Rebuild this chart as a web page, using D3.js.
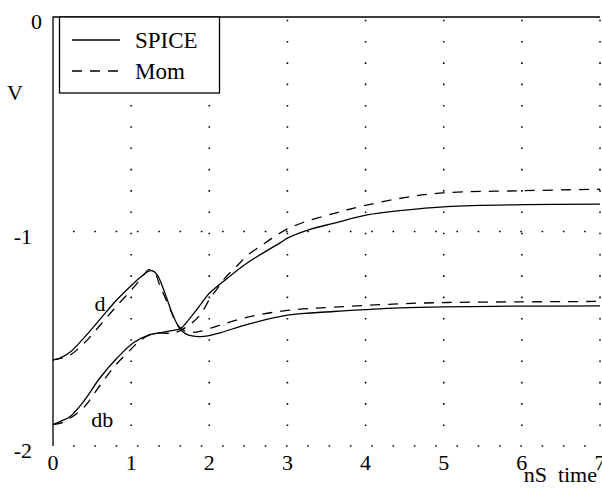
<!DOCTYPE html>
<html>
  <head>
    <meta charset="utf-8" />
    <script src="https://cdn.jsdelivr.net/npm/d3@7"></script>
    <style>
      body { margin: 0; background: #fff; }
    </style>
  </head>
  <body>
    <svg id="chart"></svg>
    <script>
      // waveform readings, [time nS, volts]
      const dSpice = [
        [0, -1.598], [0.09, -1.59], [0.22, -1.562], [0.39, -1.498], [0.6, -1.41], [0.82, -1.317],
        [1.03, -1.242], [1.11, -1.216], [1.2, -1.19], [1.27, -1.183], [1.33, -1.2], [1.43, -1.285],
        [1.54, -1.395], [1.63, -1.456], [1.7, -1.477], [1.78, -1.487], [1.88, -1.49], [2.0, -1.485],
        [2.15, -1.471], [2.5, -1.432], [3.0, -1.39], [3.59, -1.373], [4.0, -1.364], [4.44, -1.356],
        [5.0, -1.351], [6.0, -1.348], [7.0, -1.347]
      ]
      const dMom = [
        [0, -1.598], [0.2, -1.58], [0.4, -1.52], [0.6, -1.438], [0.82, -1.345], [1.03, -1.262],
        [1.15, -1.208], [1.23, -1.178], [1.3, -1.192], [1.37, -1.254], [1.45, -1.32], [1.52, -1.38],
        [1.58, -1.43], [1.66, -1.458], [1.75, -1.47], [1.88, -1.466], [2.14, -1.436], [2.52, -1.397],
        [3.0, -1.368], [3.59, -1.353], [4.44, -1.337], [5.04, -1.331], [6.02, -1.328], [7.0, -1.326]
      ]
      const dbSpice = [
        [0, -1.9], [0.09, -1.886], [0.22, -1.862], [0.39, -1.793], [0.6, -1.683], [0.82, -1.59],
        [1.03, -1.519], [1.24, -1.481], [1.37, -1.472], [1.5, -1.463], [1.63, -1.453], [1.75, -1.405],
        [1.9, -1.335], [2.0, -1.288], [2.18, -1.233], [2.48, -1.148], [2.91, -1.052], [3.0, -1.031],
        [3.29, -0.99], [3.59, -0.962], [4.02, -0.923], [4.44, -0.903], [5.04, -0.884], [6.02, -0.875],
        [7.0, -0.872]
      ]
      const dbMom = [
        [0, -1.9], [0.1, -1.893], [0.2, -1.875], [0.4, -1.818], [0.6, -1.718], [0.8, -1.623],
        [1.0, -1.548], [1.1, -1.513], [1.2, -1.488], [1.3, -1.474], [1.5, -1.474], [1.6, -1.467],
        [1.7, -1.447], [1.8, -1.42], [1.9, -1.38], [2.0, -1.318], [2.1, -1.267], [2.2, -1.217],
        [2.35, -1.162], [2.5, -1.107], [2.65, -1.07], [2.8, -1.032], [3.0, -0.988], [3.2, -0.958],
        [3.6, -0.915], [4.0, -0.878], [4.5, -0.842], [5.0, -0.82], [6.0, -0.81], [7.0, -0.803]
      ]

      const xTicks = [0, 1, 2, 3, 4, 5, 6, 7]
      const yTicks = [0, -1, -2]
      const legendItems = ["SPICE", "Mom"]
      const curveLabels = [{text: "d", t: 0.6, v: -1.37}, {text: "db", t: 0.63, v: -1.91}]

      const width = 602
      const height = 491
      const fontSize = 22
      const serif = "'Liberation Serif'"

      const x = d3.scaleLinear().domain([0, 7]).range([53, 600])
      const y = d3.scaleLinear().domain([-2, 0]).range([446, 17])

      const svg = d3.select("#chart")
        .attr("width", width)
        .attr("height", height)
        .attr("viewBox", [0, 0, width, height])

      // dotted grid
      const grid = svg.append("g")
        .attr("stroke", "#000")
        .attr("stroke-width", 1.6)
        .attr("stroke-dasharray", "1.6,19.7")
        .attr("fill", "none")

      grid.selectAll("line.v")
        .data(xTicks.filter(d => d > 0))
        .join("line")
          .attr("class", "v")
          .attr("x1", d => x(d))
          .attr("x2", d => x(d))
          .attr("y1", y(-2) - 20)
          .attr("y2", y(0))

      grid.selectAll("line.h")
        .data(yTicks.filter(d => d < 0))
        .join("line")
          .attr("class", "h")
          .attr("x1", x(0) + 20)
          .attr("x2", x(7) + 2)
          .attr("y1", d => y(d))
          .attr("y2", d => y(d))

      // frame: left axis and top line
      svg.append("path")
        .attr("d", `M${x(0)},${y(-2)}V${y(0)}H${x(7)}`)
        .attr("fill", "none")
        .attr("stroke", "#000")
        .attr("stroke-width", 1.3)

      const label = (sel, size) => sel
        .style("font-family", serif)
        .style("font-size", `${size}px`)
        .attr("fill", "#000")

      // tick labels
      svg.append("g")
        .selectAll("text")
        .data(yTicks)
        .join("text")
          .attr("x", d => d === 0 ? 42 : 32)
          .attr("y", d => y(d) + 12)
          .attr("text-anchor", "end")
          .call(label, fontSize)
          .text(d => d)

      svg.append("g")
        .selectAll("text")
        .data(xTicks)
        .join("text")
          .attr("x", d => x(d))
          .attr("y", 470)
          .attr("text-anchor", "middle")
          .call(label, fontSize)
          .text(d => d)

      svg.append("text")
        .attr("x", 15)
        .attr("y", 100)
        .attr("text-anchor", "middle")
        .call(label, fontSize)
        .text("V")

      svg.append("text")
        .attr("x", 597)
        .attr("y", 482)
        .attr("text-anchor", "end")
        .call(label, fontSize)
        .style("white-space", "pre")
        .text("nS  time")

      // curves
      const line = d3.line()
        .x(d => x(d[0]))
        .y(d => y(d[1]))
        .curve(d3.curveCatmullRom.alpha(0.5))

      const series = [
        {data: dSpice, dash: null},
        {data: dbSpice, dash: null},
        {data: dMom, dash: "10,8"},
        {data: dbMom, dash: "10,8"}
      ]

      svg.append("g")
        .selectAll("path")
        .data(series)
        .join("path")
          .attr("d", d => line(d.data))
          .attr("fill", "none")
          .attr("stroke", "#000")
          .attr("stroke-width", 1.3)
          .attr("stroke-dasharray", d => d.dash)

      svg.append("g")
        .selectAll("text")
        .data(curveLabels)
        .join("text")
          .attr("x", d => x(d.t))
          .attr("y", d => y(d.v))
          .attr("text-anchor", "middle")
          .call(label, fontSize)
          .text(d => d.text)

      // legend
      const legend = svg.append("g")
      legend.append("rect")
        .attr("x", 59.5)
        .attr("y", 17)
        .attr("width", 160)
        .attr("height", 76)
        .attr("fill", "#fff")
        .attr("stroke", "#000")
        .attr("stroke-width", 1.3)

      const item = legend.selectAll("g")
        .data(legendItems)
        .join("g")
          .attr("transform", (d, i) => `translate(0, ${40 + i * 31})`)

      item.append("line")
        .attr("x1", 72)
        .attr("x2", 120)
        .attr("stroke", "#000")
        .attr("stroke-width", 1.3)
        .attr("stroke-dasharray", (d, i) => i === 0 ? null : "10,8")

      item.append("text")
        .attr("x", 135)
        .attr("y", 8)
        .call(label, 23)
        .text(d => d)
    </script>
  </body>
</html>
